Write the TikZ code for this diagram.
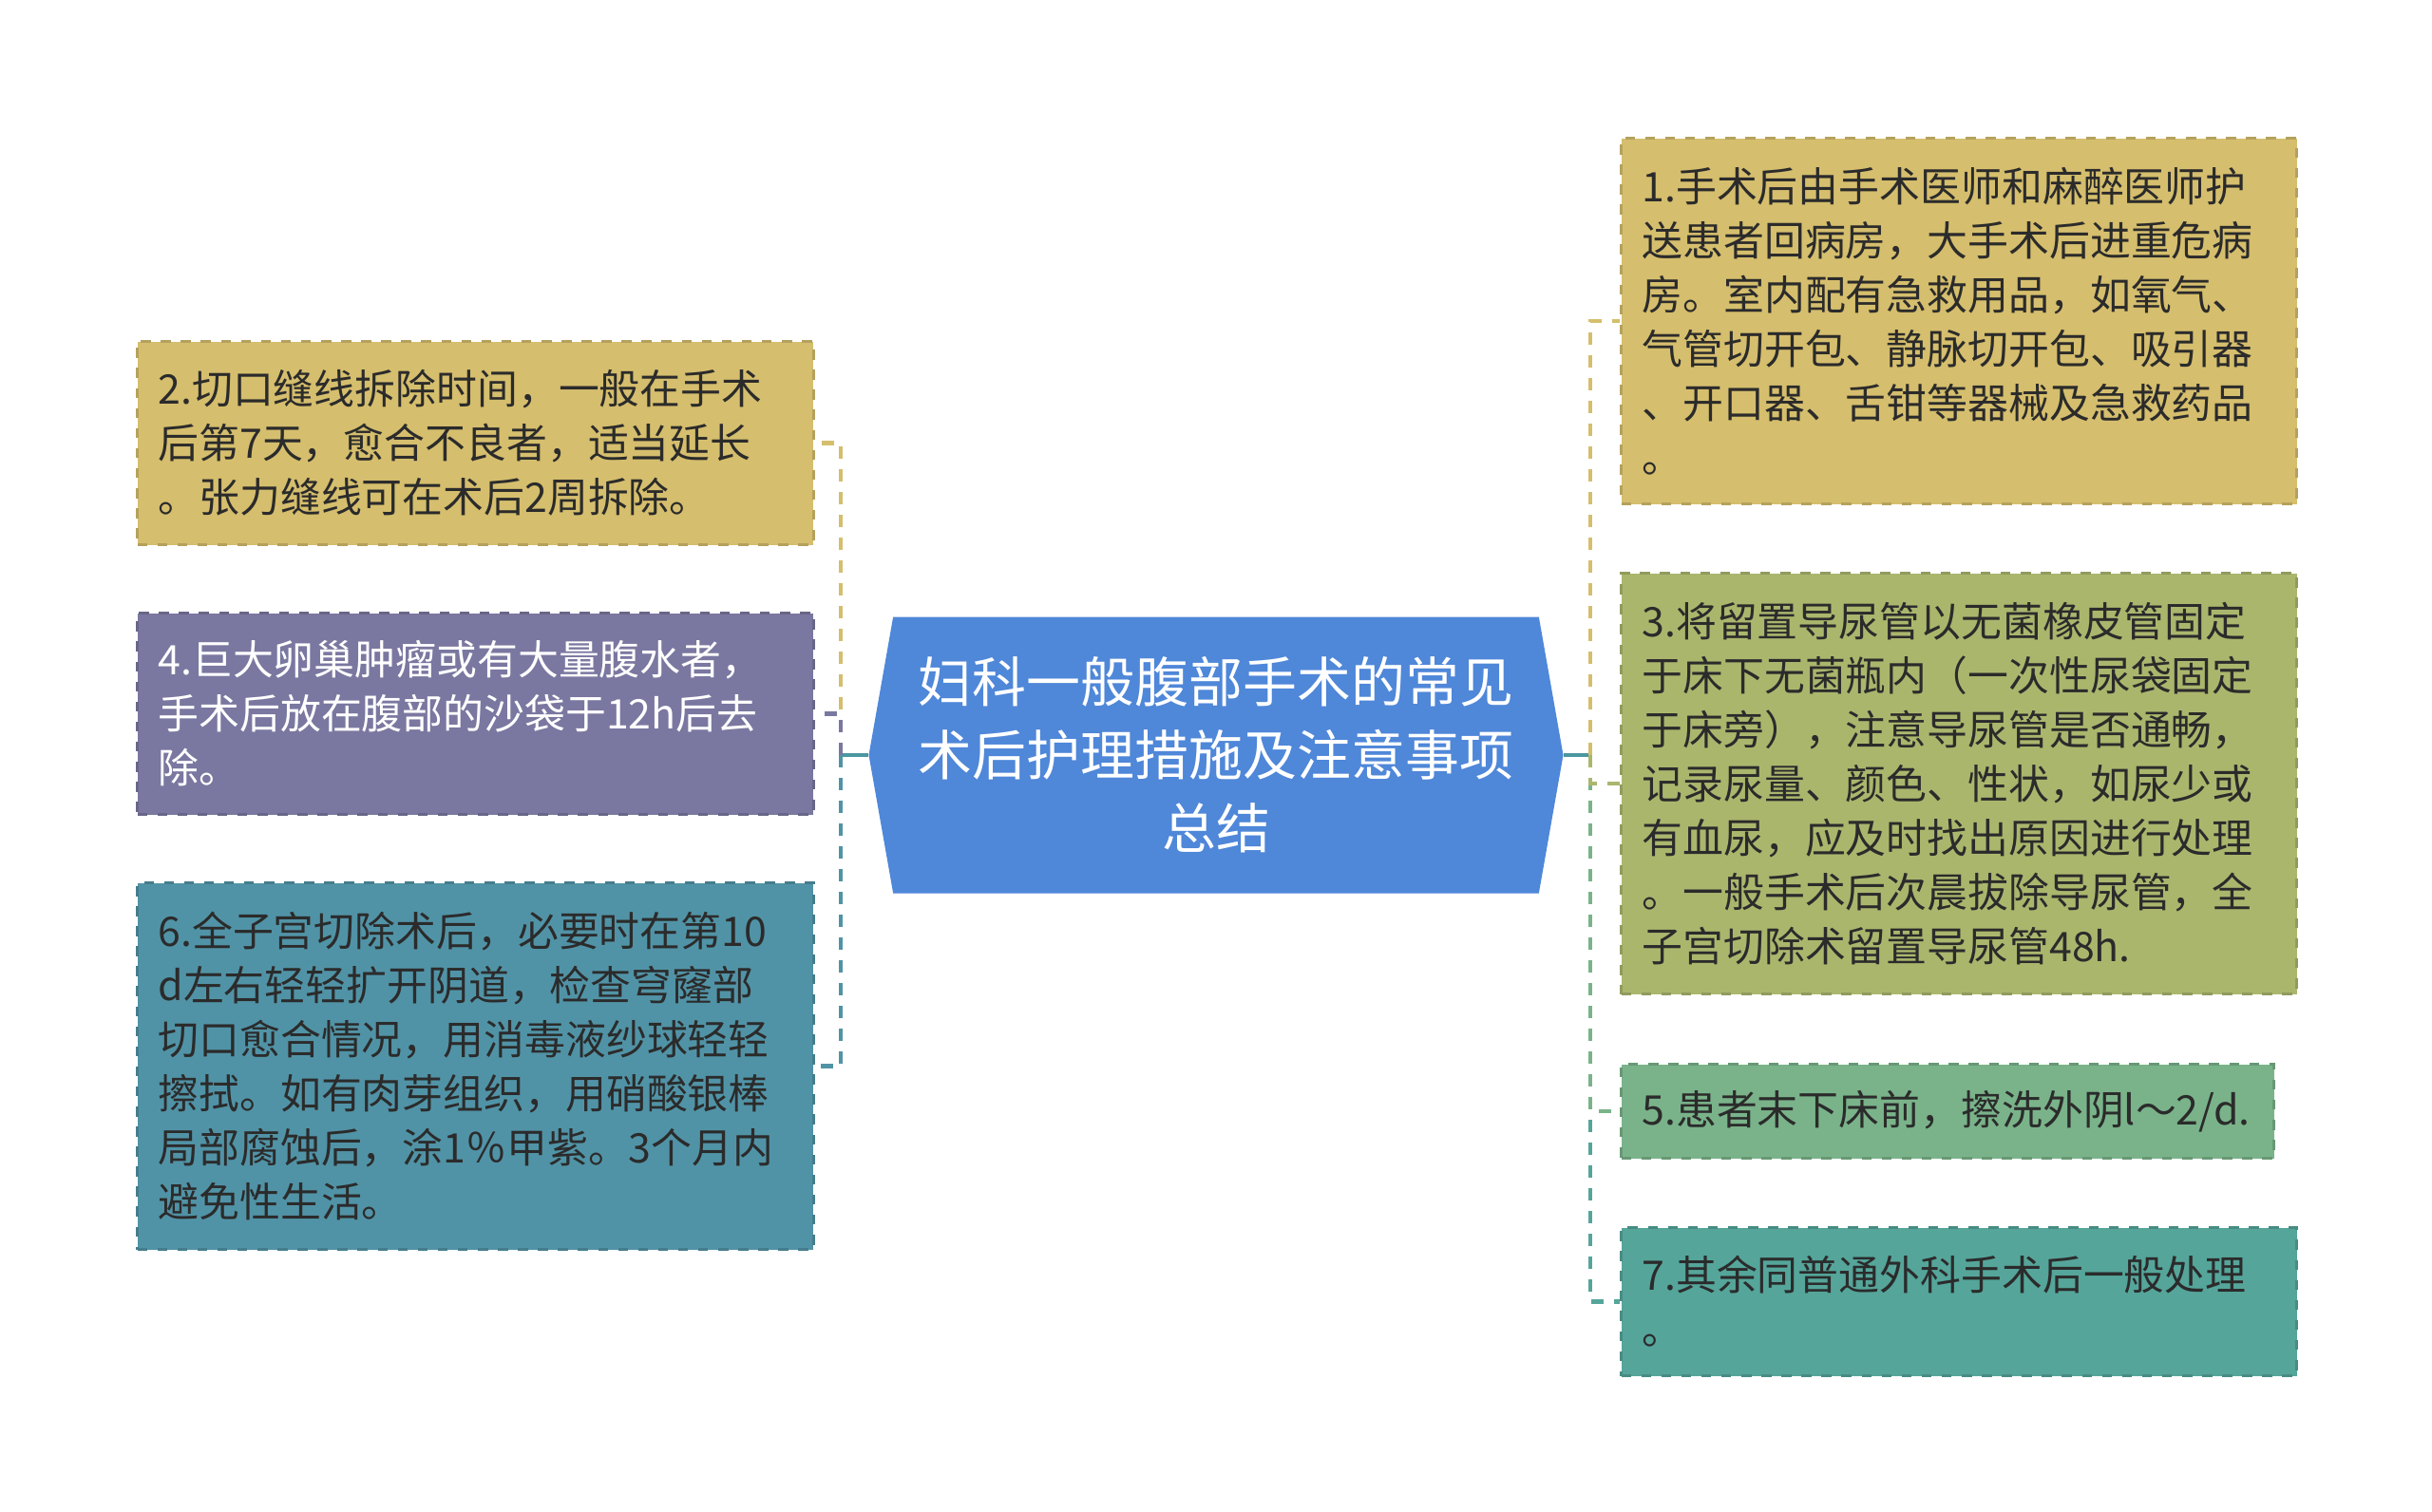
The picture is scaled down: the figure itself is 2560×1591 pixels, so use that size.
\documentclass[tikz,border=0pt]{standalone}
\usepackage{fontspec}
\setmainfont{Noto Sans CJK SC}
\usetikzlibrary{positioning,shapes.symbols}

\definecolor{hubblue}{HTML}{4F87D9}
\definecolor{trunkc}{HTML}{4B97A0}
\definecolor{yellowc}{HTML}{D5BE6D}
\definecolor{purplec}{HTML}{7A78A0}
\definecolor{tealc}{HTML}{5193A6}
\definecolor{olivec}{HTML}{ABB66D}
\definecolor{greenc}{HTML}{7AB38A}
\definecolor{seac}{HTML}{55A59A}
\definecolor{textgray}{HTML}{2B2B2B}

\begin{document}
\begin{tikzpicture}[
		x=0.1mm,y=-0.1mm,
		node distance=7mm and 0cm,
		mynode/.style={fill=#1,draw=#1!85!black,dashed,line width=0.3mm,
			text=textgray,align=left,anchor=north west,
			inner xsep=2.2mm,inner ysep=1mm,
			font=\fontsize{12.2}{16.2}\selectfont},
		hubnode/.style={signal,signal to=east and west,signal pointer angle=160,
			fill=hubblue,text=white,align=center,
			minimum width=73.1mm,minimum height=29.1mm,inner sep=0pt,
			font=\fontsize{16.2}{21.9}\selectfont},
		link/.style={draw=#1,line width=0.45mm,dash pattern=on 1.3mm off 1.1mm}
		]
		\useasboundingbox (0,0) rectangle (2560,1591);
		\node[hubnode] (hub) at (1280,795) {妇科一般腹部手术的常见\\术后护理措施及注意事项\\总结};
		\coordinate (ljoint) at (885,795);
		\coordinate (rjoint) at (1674,795);
		% left side
		\node[mynode=yellowc,text width=66.8mm,minimum height=21.4mm] (ntwo) at (143,358)
		{2.切口缝线拆除时间，一般在手术\\后第7天，愈合不良者，适当延长\\。张力缝线可在术后2周拆除。};
		\node[mynode=purplec,text=white,text width=66.8mm,minimum height=21.2mm,below=6.9mm of ntwo] (nfour)
		{4.巨大卵巢肿瘤或有大量腹水者，\\手术后放在腹部的沙袋于12h后去\\除。};
		\node[mynode=tealc,text width=66.8mm,minimum height=38.6mm,below=6.9mm of nfour] (nsix)
		{6.全子宫切除术后，必要时在第10\\d左右轻轻扩开阴道，检查穹窿部\\切口愈合情况，用消毒液纱球轻轻\\擦拭。如有肉芽组织，用硝酸银棒\\局部腐蚀后，涂1％甲紫。3个月内\\避免性生活。};
		% right side
		\node[mynode=yellowc,text width=66.7mm,minimum height=38.5mm] (none) at (1705,144)
		{1.手术后由手术医师和麻醉医师护\\送患者回病房，大手术后进重危病\\房。室内配有急救用品，如氧气、\\气管切开包、静脉切开包、吸引器\\、开口器、舌钳等器械及急救药品\\。};
		\node[mynode=olivec,text width=66.7mm,minimum height=44.3mm,below=of none] (nthree)
		{3.将留置导尿管以无菌橡皮管固定\\于床下无菌瓶内（一次性尿袋固定\\于床旁），注意导尿管是否通畅，\\记录尿量、颜色、性状，如尿少或\\有血尿，应及时找出原因进行处理\\。一般手术后次晨拔除导尿管，全\\子宫切除术留置导尿管48h.};
		\node[mynode=greenc,text width=64.3mm,minimum height=9.9mm,below=7.1mm of nthree.south west,anchor=north west] (nfive)
		{5.患者末下床前，擦洗外阴l～2/d.};
		\node[mynode=seac,text width=66.7mm,minimum height=15.6mm,below=7mm of nfive.south west,anchor=north west] (nseven)
		{7.其余同普通外科手术后一般处理\\。};
		% connectors
		\draw[trunkc,line width=0.45mm] (hub.west) -- (ljoint);
		\draw[trunkc,line width=0.45mm] (hub.east) -- (rjoint);
		\draw[link=tealc] (ljoint) |- (nsix.east);
		\draw[link=yellowc] (ljoint) |- (ntwo.east);
		\draw[link=purplec] (ljoint) |- (nfour.east);
		\draw[link=yellowc] (rjoint) |- (none.west);
		\draw[link=seac] (rjoint) |- (nseven.west);
		\draw[link=greenc] (rjoint) |- (nfive.west);
		\draw[link=olivec] (rjoint) |- (nthree.west);
	\end{tikzpicture}
\end{document}
